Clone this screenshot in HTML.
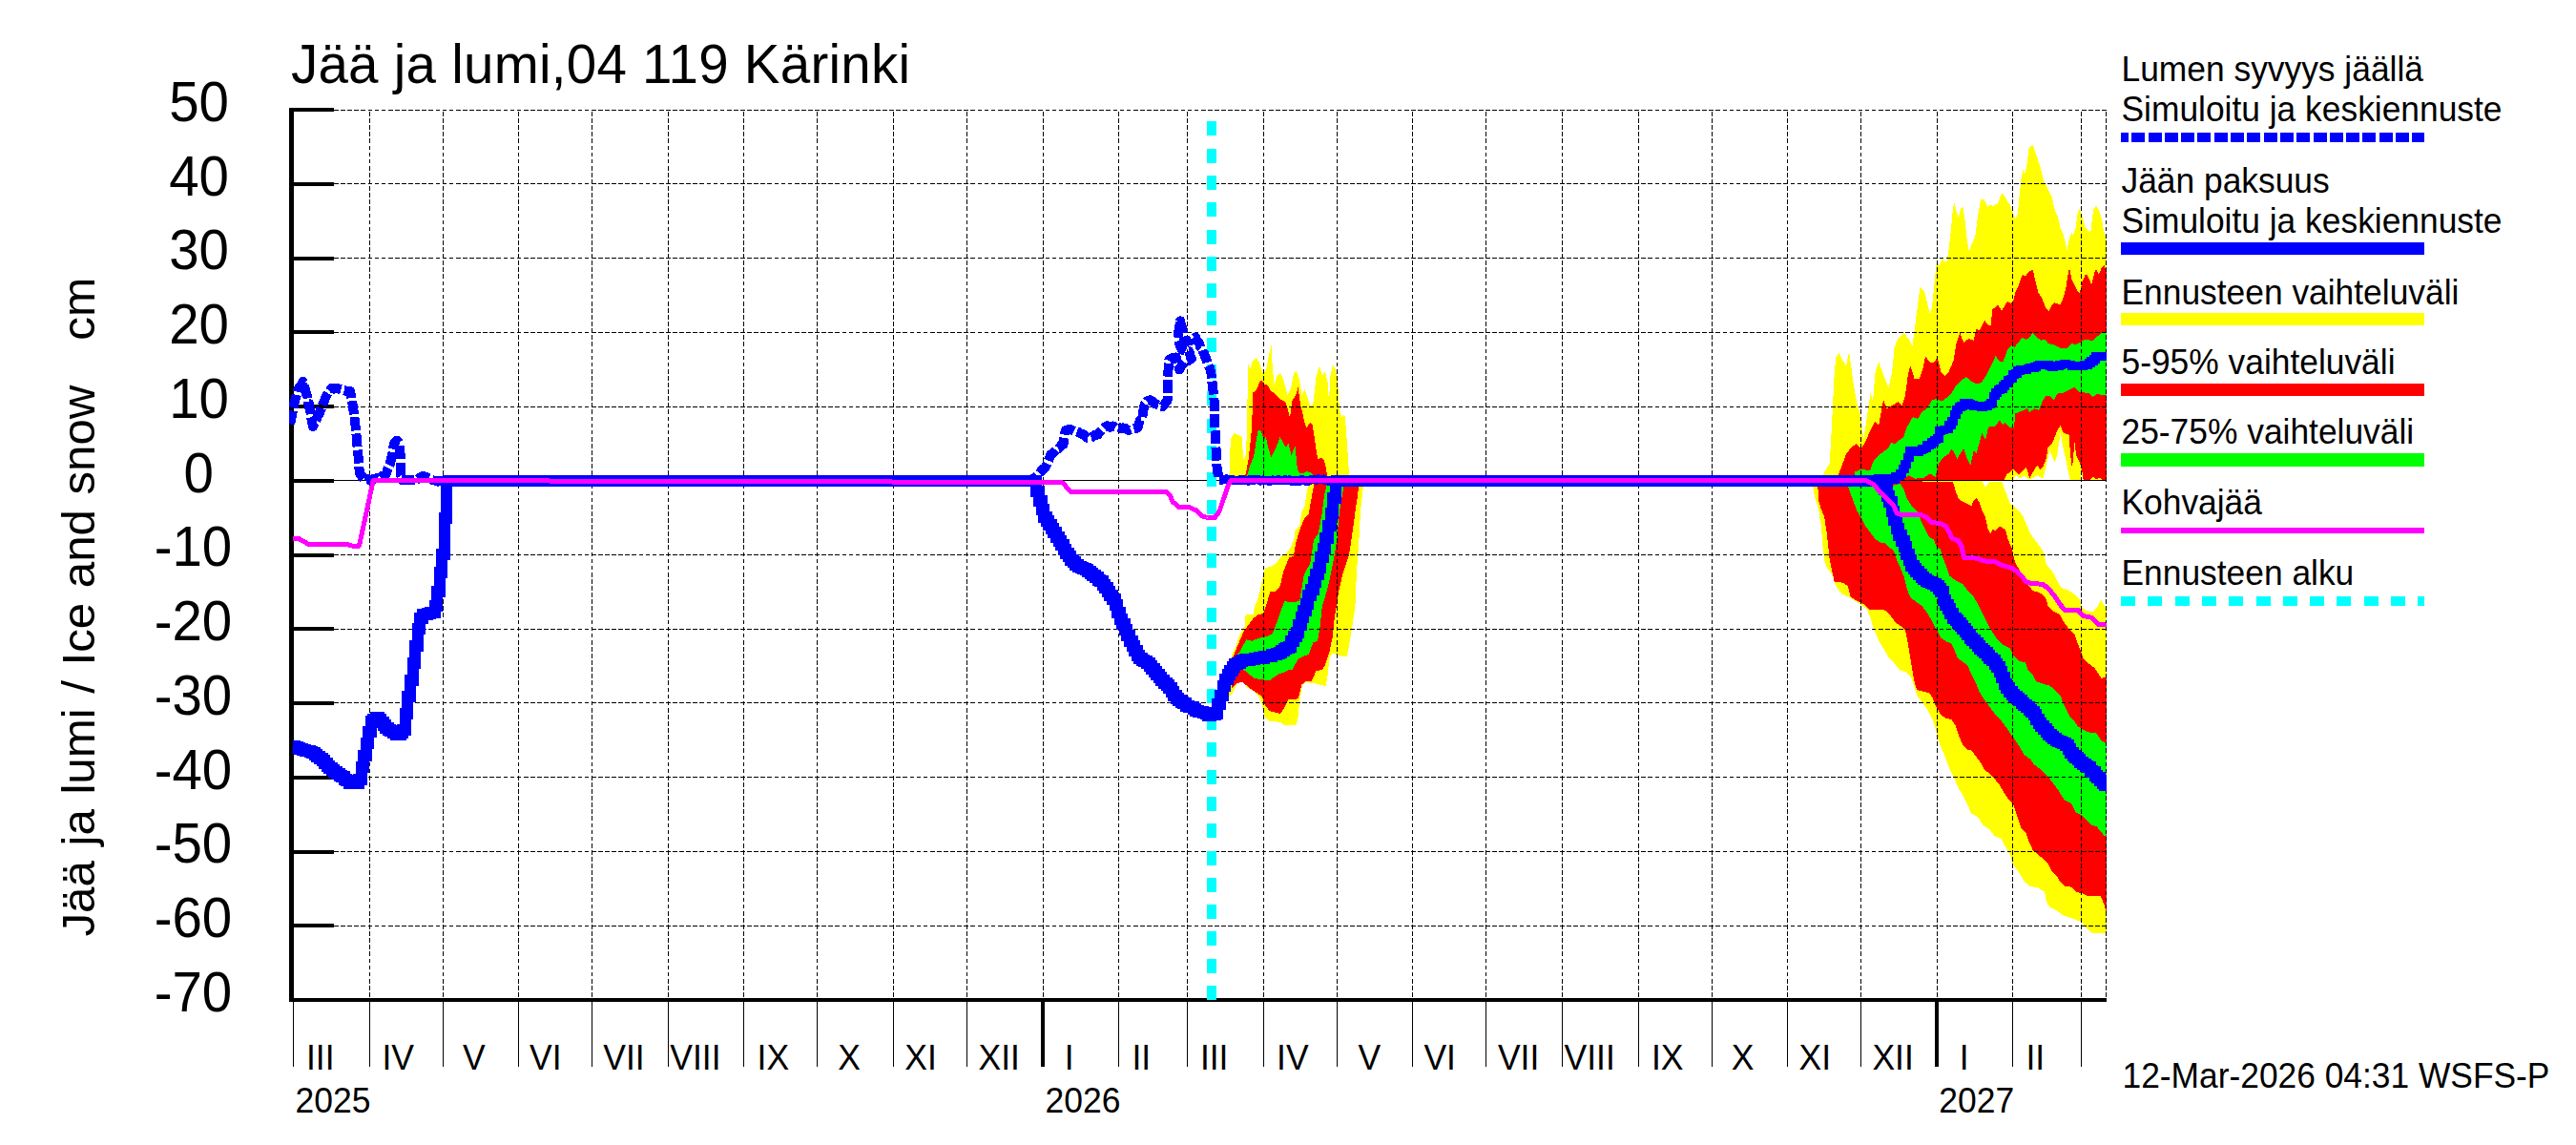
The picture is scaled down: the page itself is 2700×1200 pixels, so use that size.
<!DOCTYPE html>
<html><head><meta charset="utf-8"><title>Jää ja lumi</title>
<style>
html,body{margin:0;padding:0;background:#fff;overflow:hidden}
svg{display:block}
text{font-family:"Liberation Sans",sans-serif;fill:#000}
</style></head><body>
<svg width="2700" height="1200" viewBox="0 0 2700 1200">
<rect width="2700" height="1200" fill="#fff"/>
<defs><clipPath id="cp"><rect x="303" y="110" width="1905" height="940"/></clipPath><clipPath id="cp2"><rect x="306.5" y="110" width="1901.5" height="940"/></clipPath></defs>

<g shape-rendering="crispEdges" clip-path="url(#cp)">
<polygon points="1288.3,501.1 1289.9,459.5 1293.8,454 1301.7,457.9 1303.2,481.5 1305.6,478.3 1307.2,450 1307.9,380.1 1310.3,387.2 1312.7,378.5 1316.6,374.9 1319.7,379.3 1322.1,387.2 1324.5,391.9 1327.6,385.6 1330,371.4 1332.6,362 1333.9,387.2 1335.5,402.9 1338.6,393.5 1341.7,391.1 1344.9,396.6 1349.6,413.9 1352.8,407.6 1355.9,391.9 1358.3,389 1361.4,395 1364.5,413.9 1367.7,407.9 1370,415.5 1373.2,425.7 1376.3,423.3 1379.5,395 1382.9,383.2 1385.8,393.5 1388.9,389.5 1392.1,402.9 1392.8,423.3 1394.4,395 1396.8,382.1 1399.9,387.2 1402.3,402.9 1403.8,428 1406.2,437.5 1409.3,434.3 1410.9,450 1412.5,473.6 1414.1,497.2 1414.1,501.1 1414.1,504.5 1288.3,504.5" fill="#ffff00"/>
<polygon points="1302.4,501.1 1305.6,497.2 1308.7,481.5 1311.9,450 1313.5,411.5 1316.6,409.2 1320.5,399.7 1322.1,397.9 1325.2,402.9 1328.4,403.7 1332.3,410 1337,413.1 1341.7,418.6 1347.3,421 1349.6,428 1352,437.5 1354.3,420.2 1358.3,413.9 1360.6,406 1363,423.3 1366.9,440.6 1369.3,448.5 1373.2,443 1375.5,445.3 1377.9,459.5 1381.1,481.5 1384.2,479.6 1387.3,481.5 1389.7,489.3 1391.3,501.1 1391.3,504.5 1302.4,504.5" fill="#ff0000"/>
<polygon points="1306.4,501.1 1310.3,487.8 1314.2,478.3 1318.2,452.4 1320.5,450.8 1322.9,454.8 1324.5,461.1 1326.8,457.9 1329.2,468.9 1332.3,479.1 1337,470.5 1341.7,457.9 1344.9,464.2 1348,468.9 1350.4,465 1353.5,476.8 1357.5,468.1 1359.8,490.9 1362.2,496.4 1366.9,495.6 1370,494.1 1374.8,495.6 1377.9,501.1 1377.9,504.5 1306.4,504.5" fill="#00ff00"/>
<polygon points="1288.3,695.5 1291.4,686 1296.2,675 1299.3,665.6 1304.8,656.2 1305.6,644.4 1313.5,643.6 1315,635.7 1318.2,627.9 1320.5,620 1322.9,607.9 1325.2,600 1326,595.3 1332.3,593.8 1337,590.6 1343.3,582.8 1348,580.9 1352.8,573.3 1356.7,563.9 1357.5,556 1362.2,551.3 1364.5,535.6 1367.7,530.1 1370,513.6 1371.6,508.9 1371.9,503.4 1429.2,503.4 1429,508.9 1428.2,515.2 1425.9,537.2 1424.3,568.6 1421.9,600 1421.1,620 1420.4,635.7 1418,651.4 1415.6,667.2 1413.3,679.7 1411.7,688.4 1406.2,687.6 1396.8,684.5 1393.6,689.2 1391.3,709.6 1389.7,719 1385.8,718.3 1376.3,715.9 1368.5,715.1 1365.3,717.5 1362.2,733.2 1360.6,752.1 1358.3,759.9 1345.7,759.9 1341.7,756.8 1330.7,756 1326,752.1 1322.9,739.5 1319.7,730 1313.5,723.8 1307.2,720.6 1302.4,714.3 1297.7,714.3 1291.4,726.9 1288.3,730" fill="#ffff00"/>
<polygon points="1290.7,693.1 1294.6,682.9 1299.3,671.9 1304,660.9 1313.5,648.3 1318.2,644.4 1324.5,642.8 1327.6,632.6 1331.5,620 1337,619.7 1341.7,614.2 1344.9,600 1351.2,584.3 1355.9,582.8 1358.3,568.6 1362.2,556 1366.9,543.5 1371.6,538.7 1374.8,521.4 1377.1,508.9 1377.6,503.4 1424.4,503.4 1424.3,508.9 1422.7,521.4 1420.4,537.2 1417.2,560.7 1414.1,581.2 1407.8,600 1403.1,620 1400.7,635.7 1398.3,651.4 1396.8,667.2 1393.6,682.9 1388.9,697 1385.8,701.7 1379.5,703.3 1374.8,713.5 1368.5,714.3 1364.5,717.5 1360.6,732.4 1350.4,733.2 1345.7,742.6 1341.7,748.1 1330.7,745 1326,739.5 1322.9,730 1313.5,723.8 1307.2,719 1302.4,715.1 1296.2,715.9 1290.7,722.2" fill="#ff0000"/>
<polygon points="1293.8,690.7 1299.3,682.9 1306.4,670.3 1311.9,671.9 1319.7,668.7 1327.6,667.2 1333.9,664 1338.6,651.4 1343.3,637.3 1346.5,630.2 1354.3,631 1362.2,630.2 1364.5,615.8 1366.9,601.6 1373.2,590.6 1377.1,565.5 1381.8,559.2 1385.8,537.2 1388.1,518.3 1390.5,508.9 1391,503.4 1408.9,503.4 1408.6,508.9 1407,518.3 1403.8,537.2 1401.5,563.9 1398.3,584.3 1393.6,607.9 1390.5,620 1385.8,635.7 1383.4,657.7 1381.1,671.9 1376.3,673.5 1371.6,686 1366.9,687.6 1360.6,690.7 1354.3,702.5 1351.2,701.7 1345.7,704.9 1341.7,705.7 1335.5,709.6 1330.7,713.5 1322.9,712 1315,711.2 1307.2,704.9 1301.7,700.2" fill="#00ff00"/>
<polygon points="1911.4,496.4 1917.6,485.9 1919.3,459.7 1921,424.8 1922.8,389.9 1924.5,374.1 1927.5,369.8 1931.5,377.6 1935,383.8 1938,368.9 1940.3,384.6 1942.9,403.8 1946.4,423.1 1949.9,435.3 1953.4,459.7 1956,442.3 1958.6,424.8 1960.7,410.8 1963,421.3 1965.6,389.9 1969.1,379 1974.3,393.4 1979.6,406.5 1983.1,389.9 1985.7,363.7 1989.2,354.9 1995.3,348.8 2000.5,354.9 2004.4,362.8 2006.6,346.2 2009.3,325.2 2012.5,301 2017.3,305.8 2020.2,318.3 2022.7,328.9 2025,322.1 2027.9,293.3 2029.8,275.1 2032.7,277.9 2035.5,271.2 2040.3,275.1 2042.7,260.7 2045.2,237.6 2047.1,216.5 2048.6,213 2050.9,222.2 2052.8,228 2055.3,218.4 2057.6,217.4 2059.9,233.8 2061.9,253 2063.8,263.5 2066.3,256.8 2070.1,249.1 2073,226.1 2075.9,209.7 2079.2,208.4 2083.6,217.4 2086.5,214.5 2088.8,216.5 2091.3,213.6 2094.1,213.6 2097,204 2099.5,202.6 2103.8,210.7 2106.6,214.5 2109.5,222.2 2112.4,229 2114.9,224.1 2116.8,203 2118.7,185.7 2120.7,177.1 2122,183.8 2124.5,172.3 2126.8,154 2130.7,152.1 2134.5,162.7 2138.3,174.2 2142.2,189.6 2146,197.2 2150.8,206.9 2153.7,220.3 2156.6,226.1 2159.5,238.6 2162.4,244.3 2164.9,254.9 2166.4,262.6 2169.1,249.1 2171.6,244.3 2172.9,247.2 2175.8,237.6 2177.7,222.2 2179.7,218.8 2182.2,226.1 2185.4,237.6 2188.3,241.4 2191.2,243.4 2194.1,220.3 2196.9,214.9 2199.8,220.3 2202.7,228 2204.6,239.5 2207.1,249.1 2207.5,253 2207.5,503.5 2183.2,502.9 2181.8,494.7 2180.6,502.9 2170.1,502.9 2169.3,501.7 2165.8,484.2 2162.3,468.5 2159.7,452.8 2156.2,477.2 2153.5,484.2 2148.3,472 2144.8,487.7 2141.3,501.7 2135.2,498.2 2130,501.7 2125.6,502.5 2122.1,498.2 2116.9,501.7 2113.4,498.2 2109.9,502.5 1911,503.5" fill="#ffff00"/>
<polygon points="1927.2,496.4 1930.7,487.7 1935,475.5 1941.1,468.5 1946,465 1950.7,470.2 1955.1,463.2 1960.3,451 1965.6,441.4 1969.1,445.8 1971.7,431.8 1974,419.2 1977.8,428.3 1983.1,424.8 1989.7,421.3 1993.5,424.8 1997,414.3 1999.7,393.4 2002.3,382.9 2006.6,396.9 2011.9,396.9 2015.4,386.4 2018,373.3 2023.2,380.3 2026.7,380.3 2030.6,375 2034.6,389.9 2038.1,394.2 2042.4,389.9 2047.7,377.6 2050.3,360.2 2054.3,348.8 2058.2,359.3 2063.4,354.9 2068.6,356.7 2071.6,344.5 2074.8,346.2 2080,335.7 2084.5,341.4 2086.5,341.4 2088.4,324.1 2091.3,322.1 2094.1,319.3 2098,326 2101.8,319.3 2104.7,316 2107.6,318.3 2110.5,314.5 2112.4,305.8 2115.3,301 2118.2,291.4 2120.1,287.6 2123,289.5 2125.9,285.3 2130.7,282.8 2133.5,295.2 2136.4,306.8 2140.3,312.5 2144.1,322.1 2147.6,326 2150.8,319.3 2153.7,317.3 2159.5,319.3 2162.4,312.5 2165.2,302.9 2167.2,289.5 2169.1,280.8 2171.4,293.3 2173.9,297.2 2176.8,303.9 2179.7,307.7 2182.5,295.2 2185.4,288.5 2187.3,287.9 2190.2,293.3 2192.1,299.1 2195,286.6 2196.9,281.8 2199.8,287.6 2202.7,280.8 2205.6,277.9 2207.5,283.7 2207.5,503.5 2203.3,502.9 2200.7,500.8 2197.2,502.5 2193.7,499.9 2190.2,502.9 2183.6,502.9 2182.4,494.7 2179.7,484.2 2176.2,477.2 2174.5,464.1 2171.9,491.2 2170.1,477.2 2168.4,454.5 2165.8,455.4 2162.3,452.8 2159.7,445.8 2156.2,451 2151.8,463.2 2146.6,468.5 2144.8,480.7 2141.3,489.4 2138.7,492.1 2135.2,487.7 2130.8,494.7 2127.3,501.7 2123.8,489.4 2120.3,492.9 2116,497.3 2113.4,494.7 2109.9,491.2 2107.2,494.7 2103.8,496.4 2100.3,502.9 1927,503.5" fill="#ff0000"/>
<polygon points="1943.8,494.7 1949.9,492.1 1960.3,492.9 1963,484.2 1969.1,477.2 1975.2,472.8 1979.6,468.5 1982.2,464.1 1986.6,465 1990,461.5 1995.3,458 1998.8,447.5 2004.9,437 2010.1,438.8 2014.5,431.8 2019.7,428.3 2025,419.6 2029.3,417.8 2035.5,420.4 2039,417.8 2045.2,412.6 2050.5,403.8 2055.7,398.6 2061,395.1 2066.2,399.5 2071.4,402.1 2076.7,401.2 2081.9,393.4 2087.2,382.9 2091.5,373.3 2095.9,378.5 2099.4,379.4 2103.8,367.2 2108.1,361.9 2111.6,363.7 2115.1,359.3 2119.5,354.1 2123.8,355.8 2127.3,353.2 2130.8,348.8 2135.2,354.1 2139.6,356.7 2143.9,355.8 2146.6,360.2 2151.8,361 2158.8,364.5 2165.8,365.4 2171,360.2 2176.2,361 2179.7,359.3 2183.2,356.7 2188.5,355.8 2192.8,357.6 2197.2,353.2 2203.3,348.8 2207.7,347.1 2207.7,414.3 2204.2,414.3 2198.1,412.6 2193.7,416.1 2190.2,412.6 2186.7,411.7 2179.7,410.8 2174.5,405.6 2167.5,409.1 2162.3,411.7 2156.2,412.6 2152.7,419.6 2148.3,415.2 2143.9,415.2 2141.3,419.6 2136.9,430 2132.6,428.3 2127.3,431.8 2124.7,428.3 2118.6,430.9 2112.5,433.5 2110.7,448.4 2107.2,448.4 2102,443.1 2099.4,444.9 2095.9,440.5 2090.7,447.5 2086.3,446.6 2083.7,449.3 2081,461.5 2077.6,453.6 2074.9,463.2 2071.4,475.5 2068.8,472 2065.3,487.7 2061.8,480.7 2058.3,470.2 2055.7,473.7 2051.4,480.7 2047.9,473.7 2045.2,470.2 2042.6,475.5 2035.5,480.7 2032,485.9 2028.5,499.9 2023.2,496.4 2016.2,500.8 2007.5,501.7 2000.5,498.2 1993.5,502.9 1943.8,502.9" fill="#00ff00"/>
<polygon points="1900,503.5 2077.6,504 2081,511 2085.4,504.8 2098.5,504.8 2101.1,512.7 2106.4,526.7 2113.4,532.8 2120.3,540.7 2124.7,551.1 2127.3,558.1 2134.3,567.7 2141.3,577.3 2144.8,591.3 2151.8,600 2156.2,608.8 2160.5,615.8 2167.5,618.4 2174.5,622.8 2179.7,628 2182.4,636.7 2186.7,640.2 2193.7,641.1 2199,635 2202.4,628.9 2205.9,635 2207.7,638.5 2207.7,977.6 2202.4,978.5 2192,977.6 2186.7,972.4 2181.5,966.2 2172.8,962.8 2162.3,959.3 2155.3,954 2148.3,950.5 2144.8,945.3 2143.1,934.8 2136.1,930.4 2127.3,928.7 2122.1,924.3 2116.9,915.6 2109.9,905.1 2106.4,894.6 2101.1,885.9 2097.6,878.9 2090.7,876.3 2085.4,869.3 2078.4,864.9 2073.2,856.2 2066.2,852.7 2061,840.5 2055.7,830 2053.5,827.7 2048.3,815.5 2043.1,805 2037.8,791 2032.6,778.8 2029.1,764.8 2025.6,754.3 2020.3,743.8 2015.1,736.9 2009.9,729.9 2006.4,719.4 2002.9,708.9 1997.6,704.5 1990.7,701.9 1985.4,694.9 1980.2,689.7 1974.9,681 1969.7,672.2 1963.8,659.4 1960.3,647.2 1956.9,638.5 1949.9,633.2 1940.3,627.1 1937.6,625.4 1930.7,622.8 1925.4,615.8 1922.8,610.5 1920.2,601.8 1914.9,594.8 1912.3,587.8 1910.6,573.8 1908.8,551.1 1906.2,533.7 1901.8,519.7 1900.1,509.2 1900.1,504" fill="#ffff00"/>
<polygon points="1905,503.5 2047,504.8 2049.6,514.5 2053.1,523.2 2059.2,526.7 2066.2,530.2 2068.8,524.9 2071.4,521.4 2074.9,526.7 2077.6,535.4 2081,542.4 2083.7,554.6 2086.3,559 2088.9,554.6 2091.5,556.4 2095.9,551.1 2102,555.5 2104.6,565.1 2109,575.6 2111.6,587.8 2115.1,594.8 2120.3,603.5 2125.6,612.3 2130.8,619.3 2137.8,621 2143.9,626.2 2146.6,635 2151.8,640.2 2158.8,643.7 2162.3,650.7 2167.5,657.7 2174.5,664.7 2178,675.2 2181.5,683.9 2183.2,689.7 2188.5,694.9 2195.5,700.2 2199,705.4 2202.4,710.7 2207.7,709.8 2207.7,955.8 2205.1,947 2201.6,939.2 2188.5,939.2 2183.2,936.6 2176.2,934.8 2171,929.6 2164,928.7 2158.8,923.4 2155.3,917.3 2150,912.1 2146.6,905.1 2141.3,899.9 2136.1,895.5 2130.8,891.1 2126.5,882.4 2123,871.9 2118.6,868.4 2113.4,852.7 2109.9,842.2 2104.6,837 2099.8,829.4 2095.5,822.4 2090.2,815.5 2085,810.2 2079.7,806.7 2076.2,799.7 2071,792.8 2065.8,785.8 2062.3,785.8 2057,780.5 2053.5,771.8 2050,761.3 2045.7,754.3 2039.6,752.6 2034.3,749.1 2029.1,740.3 2025.6,731.6 2022.1,726.4 2015.1,724.6 2009,722.9 2006.4,714.1 2003.8,698.4 2000.3,677.5 1997,660.3 1991.8,655.9 1986.6,652.4 1980.4,643.7 1975.2,639.3 1958.6,638.5 1953.4,633.2 1946.4,629.7 1939.4,625.4 1936.8,614 1932.4,611.4 1927.2,609.7 1922.8,610.5 1920.2,598.3 1917.6,586.1 1914.9,559.9 1912.3,542.4 1908.8,533.7 1906.2,524.9 1905.3,509.2 1905.3,504" fill="#ff0000"/>
<polygon points="1983.1,504 1983.1,509.2 1991.8,506.6 1995.3,512.7 1998.8,523.2 2004,530.2 2009.3,535.4 2012.8,544.1 2018,554.6 2022.4,563.4 2026.7,565.1 2030.2,573.8 2033.7,575.6 2036.3,584.3 2039.8,593.1 2043.5,603.5 2050.5,608.8 2057.5,612.3 2062.7,619.3 2067.9,624.5 2073.2,633.2 2077.6,642 2081.9,650.7 2085.4,657.7 2092.4,668.7 2099.4,675.7 2106.4,679.2 2109.9,686.2 2116.9,693.2 2123,694.1 2125.6,701.9 2130.8,707.2 2134.3,714.1 2141.3,716.8 2148.3,718.5 2153.5,722.9 2159.7,729 2162.3,736.9 2165.8,743.8 2169.3,750.8 2174.5,756.1 2178,761.3 2183.2,764.8 2188.5,767.4 2197.2,768.3 2202.4,776.2 2207.7,778.8 2207.7,874.5 2205.9,876.3 2202.4,871.9 2197.2,865.8 2192,864.9 2188.5,860.6 2183.2,855.3 2176.2,851.8 2171,842.2 2164,838.7 2157,827.7 2151.8,820.7 2146.6,813.7 2139.6,806.7 2132.1,801.5 2128.6,796.2 2121.7,791 2116.4,782.3 2112.9,777 2109.4,771.8 2105.1,765.7 2100.7,759.6 2095.5,752.6 2090.2,747.3 2085,740.3 2079.7,733.4 2074.5,724.6 2070.1,714.1 2065.8,705.4 2062.3,697.6 2058.8,694.9 2051.8,689.7 2049.2,682.7 2044.8,674 2039.6,672.2 2034.3,668.7 2028.5,657.7 2025,650.7 2019.7,642 2014.5,635 2009.3,631.5 2002.3,626.2 1998.8,617.5 1995.3,603.5 1991.8,594.8 1988.3,587.8 1984.8,577.3 1980.4,573.8 1976.1,569.5 1970.8,568.6 1965.6,565.1 1960.3,558.1 1955.1,551.1 1951.6,544.1 1946.4,535.4 1941.1,521.4 1936.8,509.2 1936.8,504" fill="#00ff00"/>
</g>
<g shape-rendering="crispEdges" stroke="#000" stroke-width="1" stroke-dasharray="4.7 2.4" fill="none">
<line x1="387.5" y1="117.0" x2="387.5" y2="1048.0"/>
<line x1="464.5" y1="117.0" x2="464.5" y2="1048.0"/>
<line x1="543.5" y1="117.0" x2="543.5" y2="1048.0"/>
<line x1="620.5" y1="117.0" x2="620.5" y2="1048.0"/>
<line x1="700.5" y1="117.0" x2="700.5" y2="1048.0"/>
<line x1="779.5" y1="117.0" x2="779.5" y2="1048.0"/>
<line x1="856.5" y1="117.0" x2="856.5" y2="1048.0"/>
<line x1="936.5" y1="117.0" x2="936.5" y2="1048.0"/>
<line x1="1013.5" y1="117.0" x2="1013.5" y2="1048.0"/>
<line x1="1093.5" y1="117.0" x2="1093.5" y2="1048.0"/>
<line x1="1172.5" y1="117.0" x2="1172.5" y2="1048.0"/>
<line x1="1244.5" y1="117.0" x2="1244.5" y2="1048.0"/>
<line x1="1324.5" y1="117.0" x2="1324.5" y2="1048.0"/>
<line x1="1401.5" y1="117.0" x2="1401.5" y2="1048.0"/>
<line x1="1480.5" y1="117.0" x2="1480.5" y2="1048.0"/>
<line x1="1557.5" y1="117.0" x2="1557.5" y2="1048.0"/>
<line x1="1637.5" y1="117.0" x2="1637.5" y2="1048.0"/>
<line x1="1717.5" y1="117.0" x2="1717.5" y2="1048.0"/>
<line x1="1794.5" y1="117.0" x2="1794.5" y2="1048.0"/>
<line x1="1873.5" y1="117.0" x2="1873.5" y2="1048.0"/>
<line x1="1950.5" y1="117.0" x2="1950.5" y2="1048.0"/>
<line x1="2030.5" y1="117.0" x2="2030.5" y2="1048.0"/>
<line x1="2109.5" y1="117.0" x2="2109.5" y2="1048.0"/>
<line x1="2181.5" y1="117.0" x2="2181.5" y2="1048.0"/>
<line x1="2207.5" y1="117.0" x2="2207.5" y2="1048.0"/>
<line x1="350" y1="115.5" x2="2207.5" y2="115.5"/>
<line x1="350" y1="192.5" x2="2207.5" y2="192.5"/>
<line x1="350" y1="270.5" x2="2207.5" y2="270.5"/>
<line x1="350" y1="348.5" x2="2207.5" y2="348.5"/>
<line x1="350" y1="426.5" x2="2207.5" y2="426.5"/>
<line x1="350" y1="581.5" x2="2207.5" y2="581.5"/>
<line x1="350" y1="659.5" x2="2207.5" y2="659.5"/>
<line x1="350" y1="736.5" x2="2207.5" y2="736.5"/>
<line x1="350" y1="814.5" x2="2207.5" y2="814.5"/>
<line x1="350" y1="892.5" x2="2207.5" y2="892.5"/>
<line x1="350" y1="970.5" x2="2207.5" y2="970.5"/>
</g>
<line x1="350" y1="503.5" x2="2207.5" y2="503.5" stroke="#000" stroke-width="1" shape-rendering="crispEdges"/>
<g shape-rendering="crispEdges" stroke="#000" fill="none">
<line x1="305.7" y1="113.0" x2="305.7" y2="1050.0" stroke-width="4.6"/>
<line x1="303.4" y1="1048.0" x2="2208.1" y2="1048.0" stroke-width="4"/>
<line x1="305.7" y1="115.0" x2="350" y2="115.0" stroke-width="4"/>
<line x1="305.7" y1="192.8" x2="350" y2="192.8" stroke-width="4"/>
<line x1="305.7" y1="270.5" x2="350" y2="270.5" stroke-width="4"/>
<line x1="305.7" y1="348.2" x2="350" y2="348.2" stroke-width="4"/>
<line x1="305.7" y1="426.0" x2="350" y2="426.0" stroke-width="4"/>
<line x1="305.7" y1="503.8" x2="350" y2="503.8" stroke-width="4"/>
<line x1="305.7" y1="581.5" x2="350" y2="581.5" stroke-width="4"/>
<line x1="305.7" y1="659.2" x2="350" y2="659.2" stroke-width="4"/>
<line x1="305.7" y1="737.0" x2="350" y2="737.0" stroke-width="4"/>
<line x1="305.7" y1="814.8" x2="350" y2="814.8" stroke-width="4"/>
<line x1="305.7" y1="892.5" x2="350" y2="892.5" stroke-width="4"/>
<line x1="305.7" y1="970.2" x2="350" y2="970.2" stroke-width="4"/>
<line x1="307.5" y1="1048.0" x2="307.5" y2="1117.7" stroke-width="1"/>
<line x1="387.5" y1="1048.0" x2="387.5" y2="1117.7" stroke-width="1"/>
<line x1="464.5" y1="1048.0" x2="464.5" y2="1117.7" stroke-width="1"/>
<line x1="543.5" y1="1048.0" x2="543.5" y2="1117.7" stroke-width="1"/>
<line x1="620.5" y1="1048.0" x2="620.5" y2="1117.7" stroke-width="1"/>
<line x1="700.5" y1="1048.0" x2="700.5" y2="1117.7" stroke-width="1"/>
<line x1="779.5" y1="1048.0" x2="779.5" y2="1117.7" stroke-width="1"/>
<line x1="856.5" y1="1048.0" x2="856.5" y2="1117.7" stroke-width="1"/>
<line x1="936.5" y1="1048.0" x2="936.5" y2="1117.7" stroke-width="1"/>
<line x1="1013.5" y1="1048.0" x2="1013.5" y2="1117.7" stroke-width="1"/>
<line x1="1093" y1="1048.0" x2="1093" y2="1117.7" stroke-width="4"/>
<line x1="1172.5" y1="1048.0" x2="1172.5" y2="1117.7" stroke-width="1"/>
<line x1="1244.5" y1="1048.0" x2="1244.5" y2="1117.7" stroke-width="1"/>
<line x1="1324.5" y1="1048.0" x2="1324.5" y2="1117.7" stroke-width="1"/>
<line x1="1401.5" y1="1048.0" x2="1401.5" y2="1117.7" stroke-width="1"/>
<line x1="1480.5" y1="1048.0" x2="1480.5" y2="1117.7" stroke-width="1"/>
<line x1="1557.5" y1="1048.0" x2="1557.5" y2="1117.7" stroke-width="1"/>
<line x1="1637.5" y1="1048.0" x2="1637.5" y2="1117.7" stroke-width="1"/>
<line x1="1717.5" y1="1048.0" x2="1717.5" y2="1117.7" stroke-width="1"/>
<line x1="1794.5" y1="1048.0" x2="1794.5" y2="1117.7" stroke-width="1"/>
<line x1="1873.5" y1="1048.0" x2="1873.5" y2="1117.7" stroke-width="1"/>
<line x1="1950.5" y1="1048.0" x2="1950.5" y2="1117.7" stroke-width="1"/>
<line x1="2030" y1="1048.0" x2="2030" y2="1117.7" stroke-width="4"/>
<line x1="2109.5" y1="1048.0" x2="2109.5" y2="1117.7" stroke-width="1"/>
<line x1="2181.5" y1="1048.0" x2="2181.5" y2="1117.7" stroke-width="1"/>
</g>
<line x1="1270" y1="1048.0" x2="1270" y2="115.0" stroke="#00ffff" stroke-width="10" stroke-dasharray="15 13.3" shape-rendering="crispEdges"/>
<g clip-path="url(#cp)" fill="none" stroke-linejoin="round" shape-rendering="crispEdges">
<polyline points="304.2,444.3 304.7,441.2 305.2,438.2 305.7,436.9 306.2,432.8 306.7,431.4 307.2,428.4 307.7,426.1 308.4,422.4 309.1,420.9 309.8,417.1 310.5,415.6 311.2,412.1 311.9,409.5 312.6,408 314.2,405 315.9,403.2 317.5,399.6 318.3,401.4 319.1,404.4 319.9,408.3 320.8,411.9 321.6,413.7 322.4,416.3 322.9,418.6 323.3,422.7 323.8,422.8 324.3,427.5 324.7,428.6 325.2,430.8 325.7,433.3 326.1,436.3 326.6,440.2 327.1,441.1 327.5,444.7 328,447.1 329.1,445.1 330.3,442.1 331.4,440.2 332.6,436.6 333.8,434.3 334.9,433.1 335.9,429.7 336.9,428.4 337.9,425.1 338.9,422.2 339.9,420.3 340.9,417.4 341.9,414.9 343.8,411.6 345.6,410.1 347.5,406.6 350.3,407.6 353.1,406.9 355.9,408 358.7,408.7 361.5,409.1 364.3,410.5 367.1,410 367.6,413.3 368,414.8 368.5,419.3 369,419.7 369.4,423.2 369.9,426.1 370.2,429.4 370.6,430.4 370.9,433.9 371.3,435.4 371.6,439.7 372,442.5 372.3,444.7 372.7,447.1 373,450.9 373.2,452.2 373.5,456 373.7,458.5 374,461.3 374.2,463.7 374.5,467.5 374.7,470.6 375,472.2 375.2,475.4 375.5,477.8 375.7,479.3 375.9,483.5 376.1,486 376.3,489.5 376.5,491.6 376.7,492.8 376.9,496 378.8,498.3 380.6,501.6 382.5,503.7 385.6,502.1 388.6,502.9 391.7,501.8 394.7,501.3 397.8,501.9 400.9,498.8 404,498 405.1,496 406.2,491.6 407.4,489.2 408.5,487.1 409.2,483.8 410,482 410.8,476.9 411.5,475 412,471.5 412.4,468.5 412.9,465 416,461.5 418.9,465 419.1,469.3 419.3,472.5 419.5,475 419.5,479 419.5,480.5 419.5,483.9 419.5,487.1 419.6,489.5 419.8,493.5 420,496.5 420.1,498 421.1,499.8 422,503.5 424.7,502.6 427.4,502.8 430.1,502.7 432.8,503.4 435.3,502.6 437.8,502.1 440.4,500.4 442.9,499 445.4,499.5 448.2,500.6 450.9,501.8 453.7,503.4 456.5,503.6 459.3,504.6 462.1,503.9 464.9,503.4 467.7,503.4 1080,503.5 1086.1,499.8 1088.1,497.8 1090.2,495.7 1092.2,491.9 1094.3,491.8 1096.3,488.5 1097.5,486.4 1098.6,483.8 1099.8,480.7 1100.9,477.1 1103.2,474.9 1105.4,473.1 1107.7,470.4 1110,469.9 1112.2,466.5 1114.5,465.8 1115,461.7 1115.4,459.1 1115.9,456 1116.3,453.5 1116.8,451 1119.8,450.2 1122.8,450.4 1125.8,452.1 1128.5,452.3 1131.1,453.3 1133.8,455.1 1136.4,455.4 1139,458.7 1141.7,458.9 1144.7,458.1 1147.8,455.7 1150.8,455.5 1152.5,452.9 1154.2,451.2 1155.9,449.2 1157.6,447.6 1160.6,446.3 1163.7,447.8 1166.7,446.5 1169.3,448.5 1172,447.9 1174.7,448.7 1177.3,448.4 1179.9,449.2 1182.6,451 1185.6,449.8 1188.7,448.9 1191.7,448.7 1192.8,447.1 1194,442.8 1195.1,440 1196.3,439.9 1197.4,436.2 1198,433.2 1198.5,429.1 1199,427 1199.6,423.8 1202.4,420.3 1205.3,419.2 1208,420.6 1210.7,423.2 1213.5,424.2 1216.2,425.2 1218.9,426 1221.2,422.5 1223.5,420.3 1223.5,417 1223.5,413.6 1223.5,412.3 1223.5,408.7 1223.5,406.5 1223.5,402.4 1223.5,399.9 1223.7,396.3 1224,395 1224.2,392.6 1224.4,389.5 1224.6,386.5 1224.8,383.7 1225.1,380.7 1225.3,377.2 1228.9,375.1 1232.6,374.5 1233.3,377.1 1234,379.3 1234.6,381 1235.3,383.6 1236,387.4 1237.9,384 1239.8,381.2 1241.7,379 1245.3,378.1 1248.9,376.1 1248,374.6 1247.1,370.6 1246.2,368.1 1242.6,368.3 1238.9,366.3 1237.8,364.6 1236.7,361.6 1235.5,357.1 1234.4,354.5 1234.8,351.2 1235.2,348.6 1235.6,345.9 1235.9,343.3 1236.3,341.8 1236.7,339.9 1237.1,336.3 1237.9,340.3 1238.8,342.5 1239.7,346.1 1240.5,348.8 1240.9,352.8 1241.3,354.3 1241.7,358.6 1244.5,357.7 1247.3,357.1 1250.2,355.4 1253,353.4 1254.3,356.5 1255.6,358.2 1256.9,359.8 1258.2,363.9 1259.5,365.1 1260.8,368.8 1262.1,370.4 1263.1,374.2 1264,375.3 1265,377.9 1266,382 1267,384 1267.9,385.1 1268.9,388.6 1269.3,390.4 1269.7,393.2 1270,398 1270.4,400.5 1270.8,401.5 1271.2,406 1271.5,409.2 1271.9,411.1 1272.3,413.5 1272.4,415.7 1272.5,418.9 1272.6,420.4 1272.6,422.7 1272.7,427.8 1272.8,429.6 1272.9,431.9 1273,435.6 1273.1,436.9 1273.1,440.7 1273.2,443.2 1273.3,444.2 1273.4,447.6 1273.5,449.6 1273.7,452.4 1273.8,454.9 1273.9,458.5 1274.1,460.3 1274.2,463.4 1274.3,465.3 1274.5,470 1274.6,471.3 1274.8,474.2 1274.9,477.2 1275,480.7 1275.2,482.1 1275.3,486.1 1275.4,487.7 1275.6,490.4 1275.7,493 1276.5,496.3 1277.2,498.3 1278,502.8" stroke="#0000ff" stroke-width="10" stroke-dasharray="14 3.3"/>
<polyline points="1278,503.2 1280.5,503.1 1283.1,502.4 1285.6,502 1288.2,503.9 1290.7,502.4 1293.2,503.1 1295.8,503.7 1298.3,503.3 1300.9,502.8 1303.4,503.2 1306,503.3 1308.5,503.9 1311,502.3 1313.6,503.3 1316.1,502.6 1318.7,502.7 1321.2,503.9 1323.8,503.2 1326.3,503.3 1328.8,503.8 1331.4,504.2 1333.9,503.1 1336.5,503.5 1339,503.2 1341.5,503.2 1344.1,503.7 1346.6,503.1 1349.2,503.3 1351.7,503.1 1354.2,504.3 1356.8,503.7 1359.3,504.1 1361.9,504.3 1364.4,502.6 1367,503.3 1369.5,504.3 1372,504 1374.6,502.3 1377.1,502.3 1379.7,503.1 1382.2,502.2 1384.8,502.6 1387.3,502.2 1389.8,503.6 1392.4,503.9 1394.9,504.2 1397.5,502.4 1400,503.2" stroke="#0000ff" stroke-width="9.5"/>
<polyline points="1970.8,503.1 1973.4,503.1 1973.4,503.2 1975.9,503.2 1975.9,502.8 1978.5,502.8 1978.5,501.5 1981.1,501.5 1981.1,502.7 1983.6,502.7 1983.6,502.3 1986.2,502.3 1986.2,499.2 1988.8,499.2 1988.8,499.1 1991.3,499.1 1991.3,496.5 1993.9,496.5 1993.9,491.3 1996.5,491.3 1996.5,486.2 1999,486.2 1999,479.7 2001.6,479.7 2001.6,472.7 2004.2,472.7 2004.2,472.3 2006.7,472.3 2006.7,473.1 2009.3,473.1 2009.3,473.4 2011.9,473.4 2011.9,471.8 2014.4,471.8 2014.4,470.7 2017,470.7 2017,470 2019.6,470 2019.6,466.7 2022.2,466.7 2022.2,465.9 2024.7,465.9 2024.7,463.7 2027.3,463.7 2027.3,460.9 2029.9,460.9 2029.9,459.6 2032.4,459.6 2032.4,451.2 2035,451.2 2035,451 2037.6,451 2037.6,450.1 2040.1,450.1 2040.1,450.1 2042.7,450.1 2042.7,445.3 2045.3,445.3 2045.3,441.3 2047.8,441.3 2047.8,434.5 2050.4,434.5 2050.4,429.7 2053,429.7 2053,426.7 2055.5,426.7 2055.5,425.6 2058.1,425.6 2058.1,422.6 2060.7,422.6 2060.7,422.4 2063.2,422.4 2063.2,422.9 2065.8,422.9 2065.8,424.6 2068.4,424.6 2068.4,425.7 2070.9,425.7 2070.9,425.9 2073.5,425.9 2073.5,425.6 2076.1,425.6 2076.1,426.8 2078.6,426.8 2078.6,425.8 2081.2,425.8 2081.2,425.7 2083.8,425.7 2083.8,424.1 2086.3,424.1 2086.3,421.8 2088.9,421.8 2088.9,415.1 2091.5,415.1 2091.5,411.7 2094,411.7 2094,408.3 2096.6,408.3 2096.6,407.5 2099.2,407.5 2099.2,404.3 2101.7,404.3 2101.7,402.1 2104.3,402.1 2104.3,398.1 2106.9,398.1 2106.9,397.1 2109.5,397.1 2109.5,392.6 2112,392.6 2112,391.3 2114.6,391.3 2114.6,388.6 2117.2,388.6 2117.2,387.7 2119.7,387.7 2119.7,387.5 2122.3,387.5 2122.3,387.7 2124.9,387.7 2124.9,386 2127.4,386 2127.4,385.3 2130,385.3 2130,385.7 2132.6,385.7 2132.6,384.3 2135.1,384.3 2135.1,383.1 2137.7,383.1 2137.7,382.3 2140.3,382.3 2140.3,382 2142.8,382 2142.8,382.3 2145.4,382.3 2145.4,382.7 2148,382.7 2148,383.3 2150.5,383.3 2150.5,384.8 2153.1,384.8 2153.1,383.9 2155.7,383.9 2155.7,383.6 2158.2,383.6 2158.2,382.4 2160.8,382.4 2160.8,382.1 2163.4,382.1 2163.4,381.2 2165.9,381.2 2165.9,382.1 2168.5,382.1 2168.5,382.1 2171.1,382.1 2171.1,384 2173.6,384 2173.6,383.8 2176.2,383.8 2176.2,382.9 2178.8,382.9 2178.8,383.2 2181.3,383.2 2181.3,383.9 2183.9,383.9 2183.9,381.8 2186.5,381.8 2186.5,382.3 2189,382.3 2189,380.6 2191.6,380.6 2191.6,378.6 2194.2,378.6 2194.2,376.3 2196.7,376.3 2196.7,373.6 2199.3,373.6 2199.3,373.2 2201.9,373.2 2201.9,372.9 2204.5,372.9 2204.5,373.7 2207,373.7 2207,372.9 2207.7,372.9 2207.7,373.3" stroke="#0000ff" stroke-width="8.6" stroke-linejoin="miter"/>
<polyline points="306.7,781.7 309.3,781.7 309.3,783.1 311.8,783.1 311.8,784 314.4,784 314.4,784.9 317,784.9 317,785.6 319.5,785.6 319.5,786.6 322.1,786.6 322.1,787.2 324.7,787.2 324.7,788.3 327.2,788.3 327.2,789.3 329.8,789.3 329.8,791.2 332.4,791.2 332.4,792.5 334.9,792.5 334.9,794.7 337.5,794.7 337.5,797 340.1,797 340.1,800.4 342.6,800.4 342.6,802.8 345.2,802.8 345.2,804.9 347.8,804.9 347.8,806.7 350.3,806.7 350.3,808.7 352.9,808.7 352.9,810.7 355.5,810.7 355.5,812.8 358.1,812.8 358.1,814.2 360.6,814.2 360.6,816.5 363.2,816.5 363.2,818.1 365.8,818.1 365.8,821 368.3,821 368.3,821.4 370.9,821.4 370.9,821.2 373.5,821.2 373.5,821.2 376,821.2 376,817.1 378.6,817.1 378.6,804 381.2,804 381.2,791.8 383.7,791.8 383.7,779.1 386.3,779.1 386.3,767.4 388.9,767.4 388.9,755.9 391.4,755.9 391.4,754 394,754 394,751.7 396.6,751.7 396.6,753.8 399.1,753.8 399.1,756.6 401.7,756.6 401.7,760.3 404.3,760.3 404.3,763.3 406.8,763.3 406.8,765.3 409.4,765.3 409.4,766.4 412,766.4 412,768 414.5,768 414.5,770 417.1,770 417.1,770 419.7,770 419.7,767.9 422.2,767.9 422.2,765.3 424.8,765.3 424.8,748.2 427.4,748.2 427.4,730.3 429.9,730.3 429.9,712.6 432.5,712.6 432.5,695.1 435.1,695.1 435.1,676.7 437.6,676.7 437.6,658.8 440.2,658.8 440.2,648 442.8,648 442.8,643.8 445.4,643.8 445.4,643.9 447.9,643.9 447.9,643.2 450.5,643.2 450.5,641.7 453.1,641.7 453.1,642.2 455.6,642.2 455.6,635.3 458.2,635.3 458.2,619.6 460.8,619.6 460.8,600.4 463.3,600.4 463.3,581.2 465.9,581.2 465.9,543.1 468.2,543.1 468.2,508.3 470,503.6 1082,503.6 1083.8,503.8 1086.4,503.8 1086.4,514.9 1088.9,514.9 1088.9,525 1091.5,525 1091.5,534 1094.1,534 1094.1,541.5 1096.6,541.5 1096.6,545.7 1099.2,545.7 1099.2,549.5 1101.8,549.5 1101.8,554.1 1104.3,554.1 1104.3,558 1106.9,558 1106.9,562.7 1109.5,562.7 1109.5,566.8 1112,566.8 1112,571.3 1114.6,571.3 1114.6,576.3 1117.2,576.3 1117.2,580.4 1119.7,580.4 1119.7,582.9 1122.3,582.9 1122.3,586.8 1124.9,586.8 1124.9,589.3 1127.4,589.3 1127.4,592.2 1130,592.2 1130,594.1 1132.6,594.1 1132.6,595.3 1135.2,595.3 1135.2,596.1 1137.7,596.1 1137.7,596.6 1140.3,596.6 1140.3,598.9 1142.9,598.9 1142.9,600.7 1145.4,600.7 1145.4,602.7 1148,602.7 1148,605.1 1150.6,605.1 1150.6,607.6 1153.1,607.6 1153.1,609.1 1155.7,609.1 1155.7,612.8 1158.3,612.8 1158.3,615.9 1160.8,615.9 1160.8,619.5 1163.4,619.5 1163.4,623.6 1166,623.6 1166,628.1 1168.5,628.1 1168.5,633.9 1171.1,633.9 1171.1,641.5 1173.7,641.5 1173.7,648.7 1176.2,648.7 1176.2,654.2 1178.8,654.2 1178.8,659.9 1181.4,659.9 1181.4,665.9 1183.9,665.9 1183.9,672.1 1186.5,672.1 1186.5,677.2 1189.1,677.2 1189.1,681.7 1191.6,681.7 1191.6,686.5 1194.2,686.5 1194.2,690.4 1196.8,690.4 1196.8,691.8 1199.3,691.8 1199.3,693.2 1201.9,693.2 1201.9,695.2 1204.5,695.2 1204.5,697.5 1207,697.5 1207,701.3 1209.6,701.3 1209.6,704 1212.2,704 1212.2,707.1 1214.7,707.1 1214.7,709.9 1217.3,709.9 1217.3,713.1 1219.9,713.1 1219.9,715.7 1222.5,715.7 1222.5,718.3 1225,718.3 1225,721.3 1227.6,721.3 1227.6,725.2 1230.2,725.2 1230.2,728.6 1232.7,728.6 1232.7,732.2 1235.3,732.2 1235.3,733.7 1237.9,733.7 1237.9,736.4 1240.4,736.4 1240.4,737 1243,737 1243,739.7 1245.6,739.7 1245.6,741.1 1248.1,741.1 1248.1,741.1 1250.7,741.1 1250.7,743 1253.3,743 1253.3,744.8 1255.8,744.8 1255.8,746.2 1258.4,746.2 1258.4,746.4 1261,746.4 1261,747.2 1263.5,747.2 1263.5,748.1 1266.1,748.1 1266.1,750.1 1268.7,750.1 1268.7,748.9 1271.2,748.9 1271.2,748.9 1273.8,748.9 1273.8,747.8 1276.4,747.8 1276.4,738.1 1278.9,738.1 1278.9,729 1281.5,729 1281.5,718.8 1284.1,718.8 1284.1,711.7 1286.6,711.7 1286.6,706.9 1289.2,706.9 1289.2,703.2 1291.8,703.2 1291.8,698.7 1294.3,698.7 1294.3,696.1 1296.9,696.1 1296.9,695.3 1299.5,695.3 1299.5,693 1302,693 1302,691.6 1304.6,691.6 1304.6,691.3 1307.2,691.3 1307.2,691.7 1309.7,691.7 1309.7,691.4 1312.3,691.4 1312.3,690.9 1314.9,690.9 1314.9,690.1 1317.5,690.1 1317.5,689.9 1320,689.9 1320,689.3 1322.6,689.3 1322.6,689.6 1325.2,689.6 1325.2,687.9 1327.7,687.9 1327.7,688.2 1330.3,688.2 1330.3,687.5 1332.9,687.5 1332.9,685.8 1335.4,685.8 1335.4,686.1 1338,686.1 1338,685.1 1340.6,685.1 1340.6,684.2 1343.1,684.2 1343.1,681.7 1345.7,681.7 1345.7,680.2 1348.3,680.2 1348.3,678.7 1350.8,678.7 1350.8,677.8 1353.4,677.8 1353.4,672.4 1356,672.4 1356,667.3 1358.5,667.3 1358.5,662.7 1361.1,662.7 1361.1,655.4 1363.7,655.4 1363.7,647.4 1366.2,647.4 1366.2,639.7 1368.8,639.7 1368.8,632.9 1371.4,632.9 1371.4,624.3 1373.9,624.3 1373.9,617.9 1376.5,617.9 1376.5,609.6 1379.1,609.6 1379.1,602.3 1381.6,602.3 1381.6,594.6 1384.2,594.6 1384.2,584.3 1386.8,584.3 1386.8,574.7 1389.3,574.7 1389.3,564.3 1391.9,564.3 1391.9,551.4 1394.5,551.4 1394.5,537.7 1397,537.7 1397,521.5 1399.6,521.5 1399.6,503.8 1400,503.6 1962,503.6 1967.3,503.4 1969.9,503.4 1969.9,506.4 1972.4,506.4 1972.4,508.9 1975,508.9 1975,513.3 1977.6,513.3 1977.6,520.1 1980.1,520.1 1980.1,526.2 1982.7,526.2 1982.7,536.3 1985.3,536.3 1985.3,544.8 1987.8,544.8 1987.8,553.6 1990.4,553.6 1990.4,560.8 1993,560.8 1993,566.9 1995.5,566.9 1995.5,573.4 1998.1,573.4 1998.1,581.4 2000.7,581.4 2000.7,586.5 2003.2,586.5 2003.2,593 2005.8,593 2005.8,596.4 2008.4,596.4 2008.4,598.9 2010.9,598.9 2010.9,602.1 2013.5,602.1 2013.5,605 2016.1,605 2016.1,606.5 2018.7,606.5 2018.7,609.3 2021.2,609.3 2021.2,609.8 2023.8,609.8 2023.8,611.2 2026.4,611.2 2026.4,612 2028.9,612 2028.9,614.1 2031.5,614.1 2031.5,616.6 2034.1,616.6 2034.1,620 2036.6,620 2036.6,628.6 2039.2,628.6 2039.2,633.5 2041.8,633.5 2041.8,637.7 2044.3,637.7 2044.3,643.1 2046.9,643.1 2046.9,647.7 2049.5,647.7 2049.5,650.1 2052,650.1 2052,652.8 2054.6,652.8 2054.6,655.9 2057.2,655.9 2057.2,658.9 2059.7,658.9 2059.7,662.4 2062.3,662.4 2062.3,665.2 2064.9,665.2 2064.9,668.5 2067.4,668.5 2067.4,671.4 2070,671.4 2070,674.4 2072.6,674.4 2072.6,677.4 2075.1,677.4 2075.1,679.8 2077.7,679.8 2077.7,681.9 2080.3,681.9 2080.3,684.4 2082.8,684.4 2082.8,687.1 2085.4,687.1 2085.4,689.5 2088,689.5 2088,692.3 2090.5,692.3 2090.5,695.5 2093.1,695.5 2093.1,699.4 2095.7,699.4 2095.7,704 2098.2,704 2098.2,709.5 2100.8,709.5 2100.8,716.8 2103.4,716.8 2103.4,721.2 2106,721.2 2106,725.4 2108.5,725.4 2108.5,728 2111.1,728 2111.1,730.2 2113.7,730.2 2113.7,732.2 2116.2,732.2 2116.2,734.4 2118.8,734.4 2118.8,736.5 2121.4,736.5 2121.4,739.3 2123.9,739.3 2123.9,741.2 2126.5,741.2 2126.5,743.7 2129.1,743.7 2129.1,745.7 2131.6,745.7 2131.6,748.9 2134.2,748.9 2134.2,753.5 2136.8,753.5 2136.8,757.6 2139.3,757.6 2139.3,760.9 2141.9,760.9 2141.9,764.3 2144.5,764.3 2144.5,766.6 2147,766.6 2147,770.1 2149.6,770.1 2149.6,772.4 2152.2,772.4 2152.2,773.8 2154.7,773.8 2154.7,775.5 2157.3,775.5 2157.3,777.2 2159.9,777.2 2159.9,777.7 2162.4,777.7 2162.4,779 2165,779 2165,781.3 2167.6,781.3 2167.6,785 2170.1,785 2170.1,788.5 2172.7,788.5 2172.7,791.6 2175.3,791.6 2175.3,793.9 2177.8,793.9 2177.8,796.3 2180.4,796.3 2180.4,798.9 2183,798.9 2183,800.5 2185.5,800.5 2185.5,802.7 2188.1,802.7 2188.1,804 2190.7,804 2190.7,807.6 2193.2,807.6 2193.2,809.4 2195.8,809.4 2195.8,812.9 2198.4,812.9 2198.4,815.4 2201,815.4 2201,818.1 2203.5,818.1 2203.5,821 2206.1,821 2206.1,822.8 2208.6,822.8 2208.6,824.2" stroke="#0000ff" stroke-width="12" stroke-linejoin="miter" clip-path="url(#cp2)"/>
<polyline points="307.3,564 307.6,564 313.8,564.9 322.9,570.1 362.7,570.1 368.8,572 376.5,572 391.1,503.8 395,503.5 1112.2,505.5 1114.5,506.6 1122.4,515.7 1222.4,515.7 1226.9,520.3 1229.2,525.9 1236,531.6 1246.2,531.6 1254.1,535 1259.8,540.7 1265.5,542.5 1273.4,542.5 1278,536.1 1287.1,508.9 1289.3,504.8 1291,503.5 1955.1,503.4 1963.8,507.5 1970.8,516.2 1977.8,523.2 1984.8,530.2 1988.3,538 1993.5,539.8 2014.5,539.8 2019.7,542.4 2025,547.6 2033.7,548.5 2039,551.1 2043.3,558.1 2045.9,564.2 2052.9,566.9 2056.4,573.8 2058.2,584.3 2073.2,585.2 2078.4,587.8 2090.7,588.7 2097.6,592.2 2109.9,595.7 2116.9,601.8 2123.8,609.7 2129.1,611.4 2141.3,612.3 2146.6,616.6 2153.5,624.5 2160.5,635 2164,639.3 2178,639.3 2183.2,645.5 2192,647.2 2199,654.2 2207.7,655.1" stroke="#ff00ff" stroke-width="5"/>
</g>
<text id="title" x="304.9" y="87.3" font-size="56.5" textLength="649.2" lengthAdjust="spacing">Jää ja lumi,04 119 Kärinki</text>
<text transform="translate(240,126.8) scale(0.99,1.03)" font-size="57" text-anchor="end">50</text>
<text transform="translate(240,204.6) scale(0.99,1.03)" font-size="57" text-anchor="end">40</text>
<text transform="translate(240,282.3) scale(0.99,1.03)" font-size="57" text-anchor="end">30</text>
<text transform="translate(240,360.1) scale(0.99,1.03)" font-size="57" text-anchor="end">20</text>
<text transform="translate(240,437.8) scale(0.99,1.03)" font-size="57" text-anchor="end">10</text>
<text transform="translate(224,515.5) scale(0.99,1.03)" font-size="57" text-anchor="end">0</text>
<text transform="translate(243.2,593.3) scale(0.99,1.03)" font-size="57" text-anchor="end">-10</text>
<text transform="translate(243.2,671.0) scale(0.99,1.03)" font-size="57" text-anchor="end">-20</text>
<text transform="translate(243.2,748.8) scale(0.99,1.03)" font-size="57" text-anchor="end">-30</text>
<text transform="translate(243.2,826.5) scale(0.99,1.03)" font-size="57" text-anchor="end">-40</text>
<text transform="translate(243.2,904.3) scale(0.99,1.03)" font-size="57" text-anchor="end">-50</text>
<text transform="translate(243.2,982.0) scale(0.99,1.03)" font-size="57" text-anchor="end">-60</text>
<text transform="translate(243.2,1059.8) scale(0.99,1.03)" font-size="57" text-anchor="end">-70</text>
<text transform="translate(98.8,981.5) rotate(-90) scale(1.015,1)" font-size="48.5" word-spacing="1.9">Jää ja lumi / Ice and snow</text>
<text transform="translate(98.8,356.8) rotate(-90) scale(1.02,1)" font-size="48.5">cm</text>
<text transform="translate(321.0,1121) scale(1,1.03)" font-size="35.5">III</text>
<text transform="translate(400.4,1121) scale(1,1.03)" font-size="35.5">IV</text>
<text transform="translate(485.0,1121) scale(1,1.03)" font-size="35.5">V</text>
<text transform="translate(555.1,1121) scale(1,1.03)" font-size="35.5">VI</text>
<text transform="translate(632.3,1121) scale(1,1.03)" font-size="35.5">VII</text>
<text transform="translate(702.3,1121) scale(1,1.03)" font-size="35.5">VIII</text>
<text transform="translate(793.6,1121) scale(1,1.03)" font-size="35.5">IX</text>
<text transform="translate(878.3,1121) scale(1,1.03)" font-size="35.5">X</text>
<text transform="translate(948.3,1121) scale(1,1.03)" font-size="35.5">XI</text>
<text transform="translate(1025.5,1121) scale(1,1.03)" font-size="35.5">XII</text>
<text transform="translate(1115.7,1121) scale(1,1.03)" font-size="35.5">I</text>
<text transform="translate(1186.5,1121) scale(1,1.03)" font-size="35.5">II</text>
<text transform="translate(1257.9,1121) scale(1,1.03)" font-size="35.5">III</text>
<text transform="translate(1338.1,1121) scale(1,1.03)" font-size="35.5">IV</text>
<text transform="translate(1423.4,1121) scale(1,1.03)" font-size="35.5">V</text>
<text transform="translate(1492.4,1121) scale(1,1.03)" font-size="35.5">VI</text>
<text transform="translate(1569.9,1121) scale(1,1.03)" font-size="35.5">VII</text>
<text transform="translate(1639.6,1121) scale(1,1.03)" font-size="35.5">VIII</text>
<text transform="translate(1730.9,1121) scale(1,1.03)" font-size="35.5">IX</text>
<text transform="translate(1814.8,1121) scale(1,1.03)" font-size="35.5">X</text>
<text transform="translate(1885.6,1121) scale(1,1.03)" font-size="35.5">XI</text>
<text transform="translate(1962.4,1121) scale(1,1.03)" font-size="35.5">XII</text>
<text transform="translate(2053.7,1121) scale(1,1.03)" font-size="35.5">I</text>
<text transform="translate(2123.4,1121) scale(1,1.03)" font-size="35.5">II</text>
<text transform="translate(309.5,1166) scale(1,1.015)" font-size="35.5">2025</text>
<text transform="translate(1095.5,1166) scale(1,1.015)" font-size="35.5">2026</text>
<text transform="translate(2032.3,1166) scale(1,1.015)" font-size="35.5">2027</text>
<text transform="translate(2224.5,1140) scale(0.996,1.03)" font-size="35.5">12-Mar-2026 04:31 WSFS-P</text>
<text transform="translate(2223.5,84.7) scale(0.9965,1.02)" font-size="35.5">Lumen syvyys jäällä</text>
<text transform="translate(2223.5,126.5) scale(0.9965,1.02)" font-size="35.5">Simuloitu ja keskiennuste</text>
<text transform="translate(2223.5,201.8) scale(0.9965,1.02)" font-size="35.5">Jään paksuus</text>
<text transform="translate(2223.5,244.0) scale(0.9965,1.02)" font-size="35.5">Simuloitu ja keskiennuste</text>
<text transform="translate(2223.5,318.5) scale(0.9965,1.02)" font-size="35.5">Ennusteen vaihteluväli</text>
<text transform="translate(2223.5,392.1) scale(0.9965,1.02)" font-size="35.5">5-95% vaihteluväli</text>
<text transform="translate(2223.5,465.4) scale(0.9965,1.02)" font-size="35.5">25-75% vaihteluväli</text>
<text transform="translate(2223.5,538.9) scale(0.9965,1.02)" font-size="35.5">Kohvajää</text>
<text transform="translate(2223.5,613.0) scale(0.9965,1.02)" font-size="35.5">Ennusteen alku</text>
<g shape-rendering="crispEdges" fill="none">
<line x1="2223" y1="143.8" x2="2541" y2="143.8" stroke="#0000ff" stroke-width="10.3" stroke-dasharray="7.8 3.4 14 3.3 14 3.3 14 3.3 14 3.3 14 3.3 14 3.3 14 3.3 14 3.3 14 3.3 14 3.3 14 3.3 14 3.3 14 3.3 14 3.3 14 3.3 14 3.3 14 3.3 14 3.3"/>
<line x1="2223" y1="260.5" x2="2541" y2="260.5" stroke="#0000ff" stroke-width="13"/>
<line x1="2223" y1="334.5" x2="2541" y2="334.5" stroke="#ffff00" stroke-width="13"/>
<line x1="2223" y1="408.4" x2="2541" y2="408.4" stroke="#ff0000" stroke-width="13"/>
<line x1="2223" y1="482" x2="2541" y2="482" stroke="#00ff00" stroke-width="13.6"/>
<line x1="2223" y1="556" x2="2541" y2="556" stroke="#ff00ff" stroke-width="6"/>
<line x1="2223" y1="630.2" x2="2541" y2="630.2" stroke="#00ffff" stroke-width="10.3" stroke-dasharray="15 13.3"/>
</g>
</svg></body></html>
